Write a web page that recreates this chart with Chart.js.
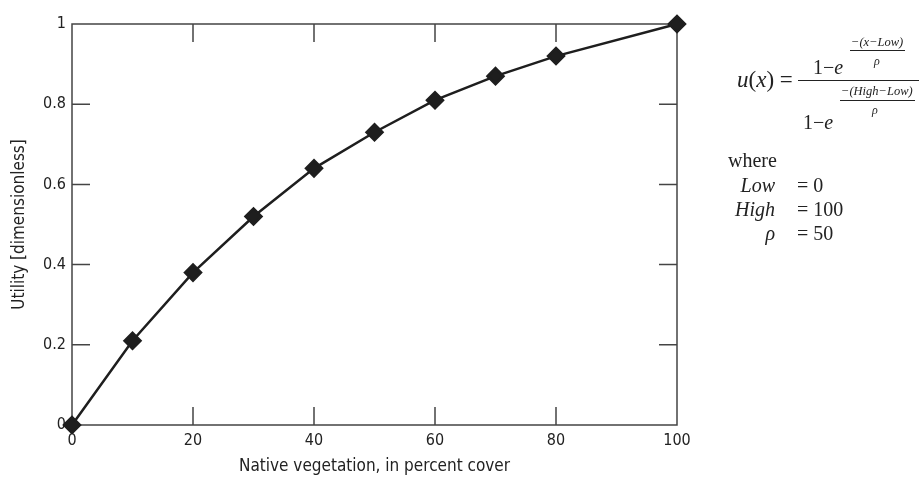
<!DOCTYPE html>
<html>
<head>
<meta charset="utf-8">
<script src="https://cdn.jsdelivr.net/npm/chart.js@4/dist/chart.umd.min.js"></script>
<style>
  html, body { margin: 0; padding: 0; background: #fff; }
  #wrap { position: relative; width: 920px; height: 481px; }
  #myChart { position: absolute; left: 0; top: 0; }
  .f { position: absolute; font-family: 'Liberation Serif', 'DejaVu Serif', serif; color: #222; white-space: nowrap; line-height: 1; }
  .i { font-style: italic; }
  .ln { position: absolute; height: 1px; background: #222; }
</style>
</head>
<body>
<div id="wrap">
  <canvas id="myChart" width="920" height="481"></canvas>

  <!-- formula -->
  <div class="f" style="left:737px;top:68px;font-size:23px;"><span class="i">u</span>(<span class="i">x</span>) =</div>
  <div class="ln" style="left:798px;top:80px;width:121px;"></div>
  <div class="f" style="left:813px;top:57px;font-size:20px;">1−<span class="i">e</span></div>
  <div class="f i" style="left:851px;top:36px;font-size:12.5px;">−(x−Low)</div>
  <div class="ln" style="left:850px;top:50px;width:55px;"></div>
  <div class="f i" style="left:874px;top:55px;font-size:12px;">ρ</div>
  <div class="f" style="left:803px;top:112px;font-size:20px;">1−<span class="i">e</span></div>
  <div class="f i" style="left:841px;top:85px;font-size:12.5px;">−(High−Low)</div>
  <div class="ln" style="left:840px;top:100px;width:75px;"></div>
  <div class="f i" style="left:872px;top:104px;font-size:12px;">ρ</div>

  <div class="f" style="left:728px;top:150px;font-size:20px;">where</div>
  <div class="f i" style="left:715px;top:175px;width:60px;text-align:right;font-size:20px;">Low</div>
  <div class="f" style="left:797px;top:175px;font-size:20px;">= 0</div>
  <div class="f i" style="left:705px;top:199px;width:70px;text-align:right;font-size:20px;">High</div>
  <div class="f" style="left:797px;top:199px;font-size:20px;">= 100</div>
  <div class="f i" style="left:735px;top:223px;width:40px;text-align:right;font-size:20px;">ρ</div>
  <div class="f" style="left:797px;top:223px;font-size:20px;">= 50</div>
</div>
<script>
const percentCover = [0, 10, 20, 30, 40, 50, 60, 70, 80, 100];
const utility = [0, 0.21, 0.38, 0.52, 0.64, 0.73, 0.81, 0.87, 0.92, 1.0];
const xTicks = [0, 20, 40, 60, 80, 100];
const yTicks = [0, 0.2, 0.4, 0.6, 0.8, 1];

const axisFont = "'Liberation Sans Narrow', 'DejaVu Sans Condensed', sans-serif";
const axisColor = '#444';

// inward tick marks on all four sides
const innerTicks = {
  id: 'innerTicks',
  beforeDatasetsDraw(chart) {
    const c = chart.ctx;
    const xs = chart.scales.x, ys = chart.scales.y;
    const a = chart.chartArea;
    const len = 18;
    c.save();
    c.strokeStyle = axisColor;
    c.lineWidth = 1.5;
    c.beginPath();
    xTicks.slice(1, -1).forEach(v => {
      const px = xs.getPixelForValue(v);
      c.moveTo(px, a.bottom); c.lineTo(px, a.bottom - len);
      c.moveTo(px, a.top); c.lineTo(px, a.top + len);
    });
    yTicks.slice(1, -1).forEach(v => {
      const py = ys.getPixelForValue(v);
      c.moveTo(a.left, py); c.lineTo(a.left + len, py);
      c.moveTo(a.right, py); c.lineTo(a.right - len, py);
    });
    c.rect(a.left, a.top, a.right - a.left, a.bottom - a.top);
    c.stroke();
    c.restore();
  }
};

const ctx = document.getElementById('myChart').getContext('2d');
const myChart = new Chart(ctx, {
  type: 'scatter',
  data: {
    datasets: [{
      data: percentCover.map((x, i) => ({ x: x, y: utility[i] })),
      showLine: true,
      clip: false,
      borderColor: '#1e1e1e',
      borderWidth: 2.5,
      backgroundColor: '#1e1e1e',
      pointStyle: 'rectRot',
      pointRadius: 8,
      pointHoverRadius: 8,
      tension: 0
    }]
  },
  options: {
    responsive: false,
    animation: false,
    layout: { padding: { top: 24, right: 243, left: 5, bottom: 0 } },
    plugins: { legend: { display: false }, tooltip: { enabled: false } },
    scales: {
      x: {
        type: 'linear',
        min: 0, max: 100,
        afterFit(scale) { scale.height = 56; },
        afterBuildTicks(scale) { scale.ticks = xTicks.map(v => ({ value: v })); },
        grid: { display: false, drawTicks: false },
        border: { display: false },
        ticks: { padding: 6, color: '#222', font: { family: axisFont, size: 16 } },
        title: { display: true, text: 'Native vegetation, in percent cover', color: '#222',
                 font: { family: axisFont, size: 17 }, padding: { top: 1 } }
      },
      y: {
        min: 0, max: 1,
        afterFit(scale) { scale.width = 67; },
        afterBuildTicks(scale) { scale.ticks = yTicks.map(v => ({ value: v })); },
        grid: { display: false, drawTicks: false },
        border: { display: false },
        ticks: { padding: 6, color: '#222', font: { family: axisFont, size: 16 },
                 callback: v => String(Math.round(v * 10) / 10) },
        title: { display: true, text: 'Utility [dimensionless]', color: '#222',
                 font: { family: axisFont, size: 17 }, padding: { bottom: 0 } }
      }
    }
  },
  plugins: [innerTicks]
});
</script>
</body>
</html>
